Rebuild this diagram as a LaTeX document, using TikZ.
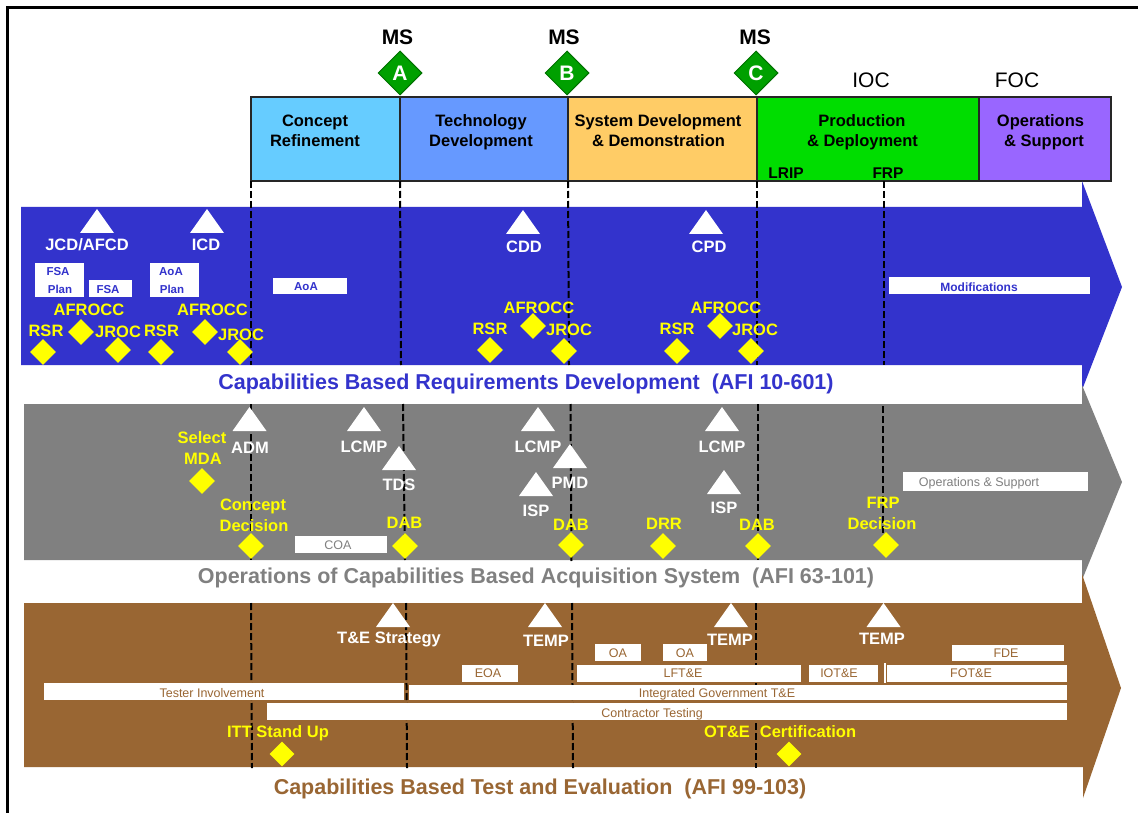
\documentclass[tikz,border=0pt]{standalone}
\usepackage{fontspec}
\setmainfont{Liberation Sans}
\usetikzlibrary{shapes.geometric,fit}

\definecolor{reqblue}{HTML}{3333CC}
\definecolor{acqgray}{HTML}{808080}
\definecolor{tebrown}{HTML}{996633}
\definecolor{yel}{HTML}{FFFF00}
\definecolor{msgreen}{HTML}{00A000}
\definecolor{crcol}{HTML}{66CCFF}
\definecolor{tdcol}{HTML}{6699FF}
\definecolor{sddcol}{HTML}{FFCC66}
\definecolor{pdcol}{HTML}{00DD00}
\definecolor{oscol}{HTML}{9966FF}

\tikzset{
  lab/.style={font=\bfseries\fontsize{16.5}{20}\selectfont, anchor=base, inner sep=0pt},
  ylab/.style={lab, text=yel},
  wlab/.style={lab, text=white},
  big/.style={font=\bfseries\fontsize{21}{24}\selectfont, anchor=base, inner sep=0pt},
  bigreg/.style={font=\fontsize{21}{24}\selectfont, anchor=base, inner sep=0pt},
  ttl/.style={font=\bfseries\fontsize{21.5}{24}\selectfont, anchor=base, inner sep=0pt},
  smallb/.style={font=\bfseries\fontsize{11.5}{13}\selectfont, anchor=base, inner sep=0pt, text=reqblue},
  boxlab/.style={font=\fontsize{12.5}{14}\selectfont, anchor=base, inner sep=0pt},
  wbox/.style={fill=white, draw=none, inner sep=0pt},
  phase/.style={draw=black!85, line width=1.2pt, inner sep=0pt},
  ydia/.style={diamond, fill=yel, inner sep=0pt, minimum size=26pt},
  gdia/.style={diamond, fill=msgreen, draw=msgreen!70!black, line width=1pt, inner sep=0pt, minimum size=44pt},
  mline/.style={line width=2pt, dash pattern=on 7pt off 3pt},
  tri/.pic={\fill[white] (-17,0) -- (17,0) -- (0,-24) -- cycle;},
}

\begin{document}
\begin{tikzpicture}[x=1pt,y=-1pt]
\useasboundingbox (0,0) rectangle (1138,813);
\fill[white] (0,0) rectangle (1138,813);
\begin{scope}
  \clip (0,0) rectangle (1138,813);
  \draw[line width=3pt] (7.7,7.7) rectangle (1160,830);
\end{scope}

% ---------- phases ----------
\node[phase, fill=crcol,  fit={(251,97) (400,181)}] (cr) {};
\node[phase, fill=tdcol,  fit={(400,97) (568,181)}] (td) {};
\node[phase, fill=sddcol, fit={(568,97) (757,181)}] (sdd) {};
\node[phase, fill=pdcol,  fit={(757,97) (979,181)}] (pd) {};
\node[phase, fill=oscol,  fit={(979,97) (1111,181)}] (os) {};

\node[lab] (crt1) at (315,127) {Concept};
\node[lab] (crt2) at (315,147) {Refinement};
\node[lab] (tdt1) at (481,127) {Technology};
\node[lab] (tdt2) at (481,147) {Development};
\node[lab] (sddt1) at (658,127) {System Development};
\node[lab] (sddt2) at (658.5,147) {\& Demonstration};
\node[lab] (pdt1) at (862,127) {Production};
\node[lab] (pdt2) at (862.5,147) {\& Deployment};
\node[lab] (ost1) at (1040.5,127) {Operations};
\node[lab] (ost2) at (1044,147) {\& Support};
\node[lab, font=\bfseries\fontsize{15.5}{18}\selectfont] (lrip) at (786,179) {LRIP};
\node[lab, font=\bfseries\fontsize{15.5}{18}\selectfont] (frp) at (888,179) {FRP};

% ---------- milestones ----------
\node[big] (msa) at (397.5,44.5) {MS};
\node[big] (msb) at (564,44.5) {MS};
\node[big] (msc) at (755,44.5) {MS};
\node[gdia] (dA) at (400,73) {};
\node[gdia] (dB) at (567,73) {};
\node[gdia] (dC) at (756,73) {};
\node[big, text=white] (lA) at (400,80.5) {A};
\node[big, text=white] (lB) at (567,80.5) {B};
\node[big, text=white] (lC) at (756,80.5) {C};
\node[bigreg] (ioc) at (871,88) {IOC};
\node[bigreg] (foc) at (1017,88) {FOC};

% ---------- bands ----------
\fill[reqblue] (21,207) -- (1082,207) -- (1082,181) -- (1122,287) -- (1082,390) -- (1082,365) -- (21,365) -- cycle;
\fill[acqgray] (24,404) -- (1082,404) -- (1082,385) -- (1122,482) -- (1082,580) -- (1082,560) -- (24,560) -- cycle;
\fill[tebrown] (24,603) -- (1082,603) -- (1082,574) -- (1121,688) -- (1083,798) -- (1083,767) -- (24,767) -- cycle;

% ---------- milestone lines ----------
\draw[mline] (251,181) -- (251,365);
\draw[mline] (251,404) -- (251,560);
\draw[mline] (251,603) -- (252,768);
\draw[mline] (400,181) -- (401,365);
\draw[mline] (403,404) -- (405,560);
\draw[mline] (406,603) -- (407,768);
\draw[mline] (568,181) -- (569,365);
\draw[mline] (570.5,404) -- (571.5,562);
\draw[mline] (572,603) -- (573,768);
\draw[mline] (757,181) -- (757,365);
\draw[mline] (758,404) -- (758,560);
\draw[mline] (756,603) -- (756,768);
\draw[mline] (884,181) -- (884,365);
\draw[mline] (883,406) -- (883,535);

% ---------- requirements band ----------
\node[wbox, fit={(35,263) (84,297)}] (bfsap) {};
\node[wbox, fit={(89,280) (132,297)}] (bfsa) {};
\node[wbox, fit={(150,263) (199,297)}] (baoap) {};
\node[wbox, fit={(273,278) (347,294)}] (baoa) {};
\node[wbox, fit={(889,277) (1090,294)}] (bmod) {};
\node[smallb] (tfsap1) at (58,276) {FSA};
\node[smallb] (tfsap2) at (60,293) {Plan};
\node[smallb] (tfsa) at (108,293) {FSA};
\node[smallb] (taoap1) at (171,276) {AoA};
\node[smallb] (taoap2) at (172,293) {Plan};
\node[smallb] (taoa) at (306,290) {AoA};
\node[smallb, font=\bfseries\fontsize{12}{14}\selectfont] (tmod) at (979,291) {Modifications};

\pic at (97,233) {tri};
\pic at (207,233) {tri};
\pic at (523,234) {tri};
\pic at (706,234) {tri};
\node[wlab] (jcd) at (87,251) {JCD/AFCD};
\node[wlab] (icd) at (206,251) {ICD};
\node[wlab] (cdd) at (524,253) {CDD};
\node[wlab] (cpd) at (709,253) {CPD};

\node[ydia] (r1) at (43,352) {};
\node[ydia] (r2) at (81,332) {};
\node[ydia] (r3) at (118,350) {};
\node[ydia] (r4) at (161,352) {};
\node[ydia] (r5) at (205,332) {};
\node[ydia] (r6) at (240,352) {};
\node[ydia] (r7) at (490,350) {};
\node[ydia] (r8) at (533,326) {};
\node[ydia] (r9) at (564,351) {};
\node[ydia] (r10) at (677,351) {};
\node[ydia] (r11) at (720,326) {};
\node[ydia] (r12) at (751,351) {};
\node[ylab] (af1) at (89,315) {AFROCC};
\node[ylab] (rsr1) at (46,336) {RSR};
\node[ylab] (jr1) at (118,337) {JROC};
\node[ylab] (rsr2) at (161.5,336) {RSR};
\node[ylab] (af2) at (212.5,315) {AFROCC};
\node[ylab] (jr2) at (241,340) {JROC};
\node[ylab] (af3) at (539,313) {AFROCC};
\node[ylab] (rsr3) at (490,334) {RSR};
\node[ylab] (jr3) at (569,335) {JROC};
\node[ylab] (rsr4) at (677,334) {RSR};
\node[ylab] (af4) at (726,313) {AFROCC};
\node[ylab] (jr4) at (755,335) {JROC};

\node[ttl, text=reqblue] (treq) at (526,389) {Capabilities Based Requirements Development~~(AFI 10-601)};

% ---------- acquisition band ----------
\node[wbox, fit={(295,536) (387,553)}] (bcoa) {};
\node[wbox, fit={(903,472) (1088,491)}] (bops) {};
\node[boxlab, text=acqgray] (tcoa) at (338,549) {COA};
\node[boxlab, text=acqgray] (tops) at (979,486) {Operations \& Support};

\pic at (249.5,431) {tri};
\pic at (364,431) {tri};
\pic at (399,470) {tri};
\pic at (538,431) {tri};
\pic at (570,468) {tri};
\pic at (536,496) {tri};
\pic at (722,431) {tri};
\pic at (724,494) {tri};
\node[wlab] (adm) at (250,453) {ADM};
\node[wlab] (lcmp1) at (364,452) {LCMP};
\node[wlab] (tds) at (399,490) {TDS};
\node[wlab] (lcmp2) at (538,452) {LCMP};
\node[wlab] (pmd) at (570,488) {PMD};
\node[wlab] (isp1) at (536,516) {ISP};
\node[wlab] (lcmp3) at (722,452) {LCMP};
\node[wlab] (isp2) at (724,513) {ISP};

\node[ydia] (a1) at (202,481) {};
\node[ydia] (a2) at (251,546) {};
\node[ydia] (a3) at (405,546) {};
\node[ydia] (a4) at (571,545) {};
\node[ydia] (a5) at (663,546) {};
\node[ydia] (a6) at (758,546) {};
\node[ydia] (a7) at (886,545) {};
\node[ylab] (sel1) at (202,443) {Select};
\node[ylab] (sel2) at (203,464) {MDA};
\node[ylab] (cd1) at (253,510) {Concept};
\node[ylab] (cd2) at (254,531) {Decision};
\node[ylab] (dab1) at (404.5,528) {DAB};
\node[ylab] (dab2) at (571,530) {DAB};
\node[ylab] (drr) at (664,529) {DRR};
\node[ylab] (dab3) at (757,530) {DAB};
\node[ylab] (frpd1) at (883,508) {FRP};
\node[ylab] (frpd2) at (882,529) {Decision};

\node[ttl, text=acqgray] (tacq) at (536,583) {Operations of Capabilities Based Acquisition System~~(AFI 63-101)};

% ---------- test and evaluation band ----------
\node[wbox, fit={(595,644) (641,661)}] (boa1) {};
\node[wbox, fit={(663,644) (707,661)}] (boa2) {};
\node[wbox, fit={(952,645) (1064,661)}] (bfde) {};
\node[wbox, fit={(462,665) (518,682)}] (beoa) {};
\node[wbox, fit={(577,665) (801,682)}] (blft) {};
\node[wbox, fit={(809,665) (878,682)}] (biot) {};
\node[wbox, fit={(887,665) (1067,682)}] (bfot) {};
\node[wbox, fit={(44,683) (404,700)}] (btest) {};
\node[wbox, fit={(409,685) (1067,700)}] (bigte) {};
\node[wbox, fit={(267,703) (1067,720)}] (bct) {};
\fill[white] (884.3,663) rectangle (885.8,683);
\node[boxlab, text=tebrown] (toa1) at (618,657) {OA};
\node[boxlab, text=tebrown] (toa2) at (685,657) {OA};
\node[boxlab, text=tebrown] (tfde) at (1006,657) {FDE};
\node[boxlab, text=tebrown] (teoa) at (488,677) {EOA};
\node[boxlab, text=tebrown] (tlft) at (683,677) {LFT\&E};
\node[boxlab, text=tebrown] (tiot) at (839,677) {IOT\&E};
\node[boxlab, text=tebrown] (tfot) at (971,677) {FOT\&E};
\node[boxlab, text=tebrown] (ttest) at (212,697) {Tester Involvement};
\node[boxlab, text=tebrown] (tigte) at (717,697) {Integrated Government T\&E};
\node[boxlab, text=tebrown] (tct) at (652,717) {Contractor Testing};

\pic at (393,627) {tri};
\pic at (545,627) {tri};
\pic at (731,627) {tri};
\pic at (883.5,627) {tri};
\node[wlab] (testr) at (389,643) {T\&E Strategy};
\node[wlab] (temp1) at (546,646) {TEMP};
\node[wlab] (temp2) at (730,645) {TEMP};
\node[wlab] (temp3) at (882,644) {TEMP};

\node[ydia, minimum size=25pt] (e1) at (282,754) {};
\node[ydia, minimum size=25pt] (e2) at (789,754) {};
\node[ylab] (itt) at (278,737) {ITT Stand Up};
\node[ylab] (ote) at (727,737) {OT\&E};
\node[ylab] (cert) at (808,737) {Certification};

\node[ttl, text=tebrown] (tte) at (540,794) {Capabilities Based Test and Evaluation~~(AFI 99-103)};
\end{tikzpicture}
\end{document}
